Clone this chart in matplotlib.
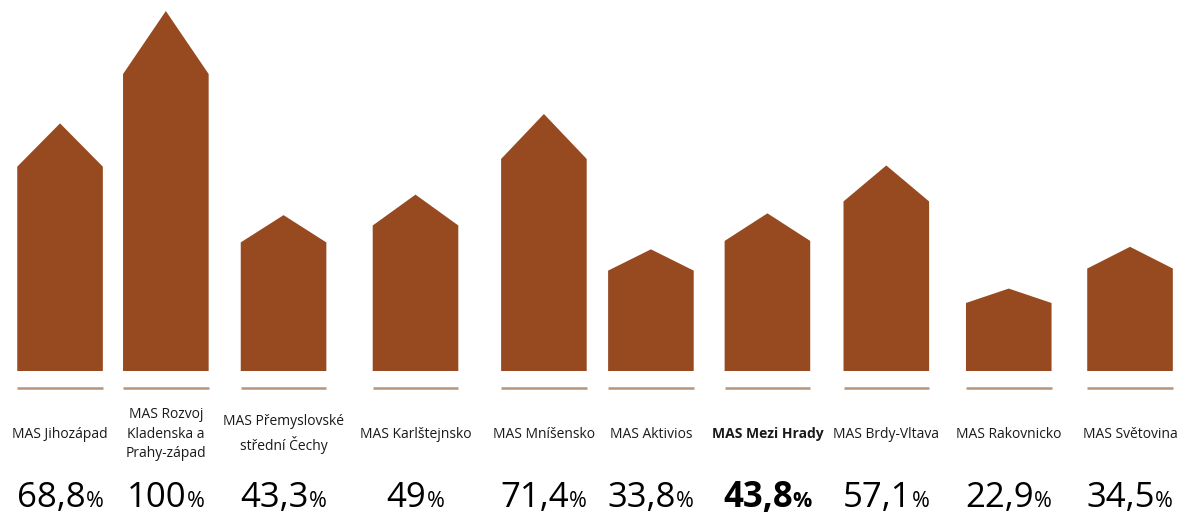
import matplotlib
matplotlib.use('Agg')

import matplotlib.pyplot as plt
from matplotlib.patches import Polygon

# Data
names = [
    'MAS Jihozápad', 'MAS Rozvoj\nKladenska a\nPrahy-západ', 'MAS Přemyslovské\nstřední Čechy',
    'MAS Karlštejnsko', 'MAS Mníšensko', 'MAS Aktivios', 'MAS Mezi Hrady',
    'MAS Brdy-Vltava', 'MAS Rakovnicko', 'MAS Světovina'
]
values = [68.8, 100, 43.3, 49, 71.4, 33.8, 43.8, 57.1, 22.9, 34.5]
value_labels = ['68,8', '100', '43,3', '49', '71,4', '33,8', '43,8', '57,1', '22,9', '34,5']
highlight = 'MAS Mezi Hrady'

# Layout: the houses are not quite evenly spaced in the original
slots = [0.0, 0.89, 1.88, 2.99, 4.07, 4.97, 5.95, 6.95, 7.98, 9.0]

BAR_COLOR = '#974a20'
LINE_COLOR = '#b7947a'
FONT = ['Open Sans', 'DejaVu Sans']

bar_w = 0.72
roof = 0.825  # share of the height that is the wall, the rest is the roof

fig = plt.figure(figsize=(11.84, 5.15), dpi=100)
ax = fig.add_axes([0, 0.2796, 1, 0.699])
ax.set_xlim(-0.505, 9.454)
ax.set_ylim(0, 100)
ax.axis('off')

num_texts = []
for x, name, v, lab in zip(slots, names, values, value_labels):
    x0, x1 = x - bar_w / 2, x + bar_w / 2
    house = Polygon([(x0, 0), (x1, 0), (x1, v * roof), (x, v), (x0, v * roof)],
                    closed=True, facecolor=BAR_COLOR, edgecolor='none')
    ax.add_patch(house)

    # thin line under each house
    ax.plot([x0, x1], [-4.7, -4.7], color=LINE_COLOR, lw=1.8, clip_on=False,
            solid_capstyle='butt')

    weight = 'bold' if name == highlight else 'normal'
    ax.text(x, -17.5, name, ha='center', va='center', fontsize=10, family=FONT,
            fontweight=weight, color='#1a1a1a', linespacing=1.45, clip_on=False)

    t_num = ax.text(x, -37.8, lab, ha='right', va='baseline', fontsize=25,
                    family=FONT, fontweight=weight, color='black', clip_on=False)
    t_pct = ax.text(x, -37.8, '%', ha='left', va='baseline', fontsize=15.5,
                    family=FONT, fontweight=weight, color='black', clip_on=False)
    num_texts.append((x, t_num, t_pct))

# centre each number + percent sign group under its house
fig.canvas.draw()
renderer = fig.canvas.get_renderer()
inv = ax.transData.inverted()
for x, t_num, t_pct in num_texts:
    bn = t_num.get_window_extent(renderer)
    bp = t_pct.get_window_extent(renderer)
    nw = inv.transform((bn.width, 0))[0] - inv.transform((0, 0))[0]
    pw = inv.transform((bp.width, 0))[0] - inv.transform((0, 0))[0]
    c = (nw - pw) / 2
    t_num.set_x(x + c)
    t_pct.set_x(x + c)

fig.savefig('out.png', dpi=100, facecolor='white')
plt.close()
